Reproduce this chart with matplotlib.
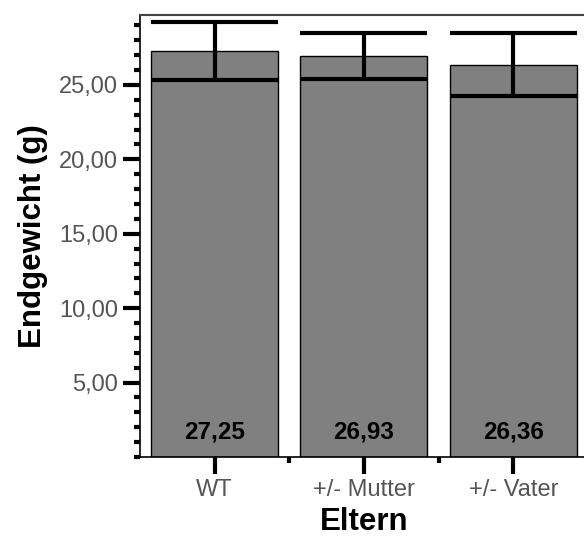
import matplotlib
matplotlib.use('Agg')
import matplotlib.pyplot as plt
from matplotlib.ticker import MultipleLocator, FixedLocator

plt.rcParams['font.family'] = ['Liberation Sans', 'DejaVu Sans']

categories = ['WT', '+/- Mutter', '+/- Vater']
means = [27.25, 26.93, 26.36]
err_low = [25.34, 25.40, 24.26]
err_high = [29.24, 28.50, 28.50]
value_labels = ['27,25', '26,93', '26,36']

fig = plt.figure(figsize=(5.84, 5.37), dpi=100)
ax = fig.add_axes([0.2397, 0.149, 0.767, 0.823])

x = list(range(len(categories)))
width = 0.85
ax.bar(x, means, width=width, color='#808080', edgecolor='black', linewidth=1, zorder=2)

for i in x:
    lo, hi = err_low[i], err_high[i]
    ax.hlines([lo, hi], i - width / 2, i + width / 2, colors='black', linewidth=3, zorder=3)
    ax.vlines(i, lo, hi, colors='black', linewidth=3, zorder=3)
    ax.text(i, 1.7, value_labels[i], ha='center', va='center',
            fontsize=17.5, fontweight='bold', color='black', zorder=4)

ax.set_xlim(-0.5, 2.5)
ax.set_ylim(0, 29.7)

ax.set_xticks(x)
ax.set_xticklabels(categories)
ax.xaxis.set_minor_locator(FixedLocator([0.5, 1.5]))
ax.yaxis.set_major_locator(FixedLocator([5, 10, 15, 20, 25]))
ax.set_yticklabels(['5,00', '10,00', '15,00', '20,00', '25,00'])
ax.yaxis.set_minor_locator(MultipleLocator(1))

ax.tick_params(axis='both', which='major', length=12, width=3, direction='out',
               labelsize=17, labelcolor='#555555', color='black', pad=4)
ax.tick_params(axis='both', which='minor', length=4, width=3, direction='out', color='black')

for side in ['left', 'bottom']:
    ax.spines[side].set_linewidth(1.2)
    ax.spines[side].set_color('black')
ax.spines['top'].set_color('#444444')
ax.spines['top'].set_linewidth(1.5)
ax.spines['right'].set_visible(False)

ax.set_ylabel('Endgewicht (g)', fontsize=22.5, fontweight='bold', labelpad=8)
ax.set_xlabel('Eltern', fontsize=22.5, fontweight='bold', labelpad=4)

fig.savefig('out.png', dpi=100)
